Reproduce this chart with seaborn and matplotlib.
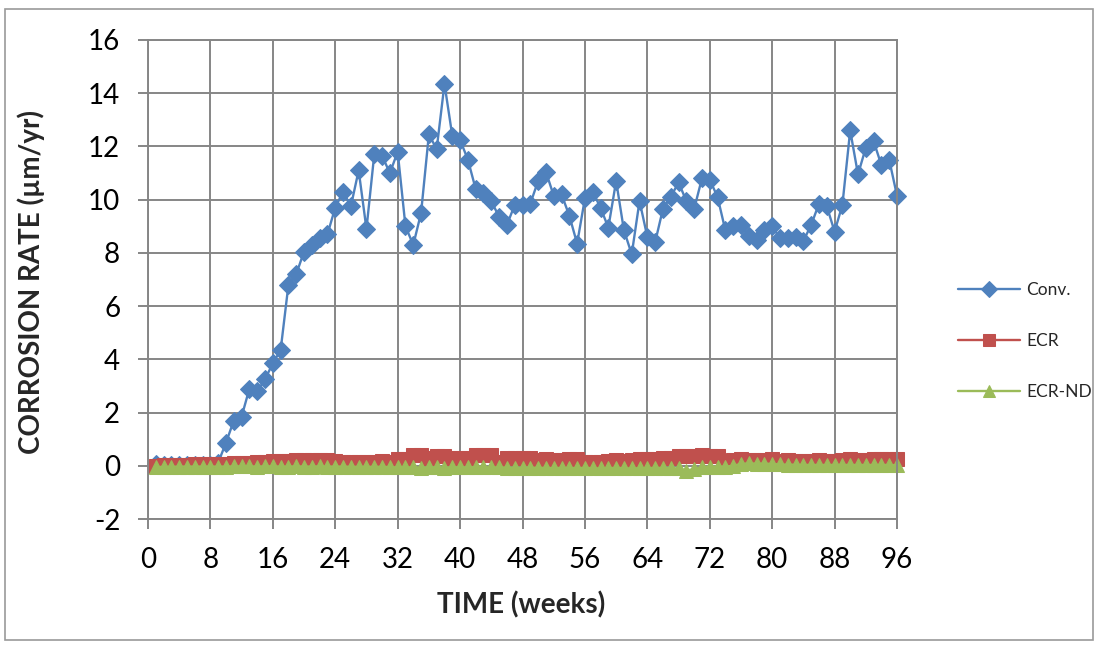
import numpy as np
import pandas as pd
import matplotlib
matplotlib.use("Agg")
import matplotlib.pyplot as plt
import seaborn as sns
from matplotlib.patches import Rectangle

# ----------------------------------------------------------
# Data
# ----------------------------------------------------------
weeks = list(range(1, 97))

conv = [0.05, 0.03, 0.02, 0.03, 0.02, 0.02, 0.03, 0.02, 0.12, 0.87, 1.70, 1.85,
        2.90, 2.80, 3.25, 3.85, 4.35, 6.80, 7.20, 8.05, 8.30, 8.55, 8.70, 9.70,
        10.30, 9.75, 11.10, 8.90, 11.70, 11.65, 11.00, 11.80, 9.00, 8.30, 9.50, 12.45,
        11.90, 14.35, 12.40, 12.25, 11.50, 10.40, 10.25, 9.95, 9.35, 9.05, 9.80, 9.80,
        9.85, 10.70, 11.05, 10.15, 10.20, 9.40, 8.35, 10.05, 10.30, 9.70, 8.95, 10.70,
        8.85, 7.95, 9.95, 8.60, 8.40, 9.65, 10.10, 10.65, 9.95, 9.65, 10.80, 10.75,
        10.10, 8.85, 9.00, 9.05, 8.65, 8.50, 8.85, 9.00, 8.55, 8.55, 8.60, 8.45,
        9.05, 9.85, 9.75, 8.80, 9.80, 12.60, 10.95, 11.95, 12.20, 11.30, 11.50, 10.15]

ecr = [0.00, 0.02, 0.03, 0.03, 0.04, 0.05, 0.05, 0.06, 0.07, 0.08, 0.09, 0.10,
       0.12, 0.15, 0.16, 0.17, 0.18, 0.19, 0.20, 0.21, 0.22, 0.22, 0.21, 0.19,
       0.15, 0.15, 0.16, 0.15, 0.16, 0.17, 0.16, 0.26, 0.27, 0.40, 0.41, 0.30,
       0.37, 0.38, 0.30, 0.31, 0.30, 0.40, 0.41, 0.40, 0.15, 0.30, 0.31, 0.30,
       0.31, 0.23, 0.24, 0.23, 0.22, 0.26, 0.27, 0.15, 0.14, 0.16, 0.19, 0.20,
       0.19, 0.22, 0.26, 0.27, 0.26, 0.28, 0.30, 0.37, 0.38, 0.38, 0.39, 0.38,
       0.37, 0.15, 0.23, 0.24, 0.23, 0.22, 0.23, 0.24, 0.19, 0.20, 0.19, 0.18,
       0.19, 0.20, 0.19, 0.19, 0.23, 0.24, 0.23, 0.23, 0.26, 0.27, 0.26, 0.26]

ecr_nd = [-0.05, -0.04, -0.04, -0.03, -0.03, -0.03, -0.03, -0.03, -0.03, -0.03, -0.02, -0.02,
          -0.02, -0.03, -0.02, -0.02, -0.03, -0.03, -0.02, -0.03, -0.03, -0.02, -0.03, -0.03,
          -0.03, -0.04, -0.04, -0.04, -0.04, -0.04, -0.05, -0.06, -0.06, -0.06, -0.07, -0.06,
          -0.06, -0.07, -0.06, -0.06, -0.06, -0.05, -0.05, -0.06, -0.06, -0.07, -0.08, -0.08,
          -0.07, -0.08, -0.08, -0.09, -0.08, -0.08, -0.09, -0.08, -0.09, -0.10, -0.09, -0.08,
          -0.09, -0.10, -0.09, -0.09, -0.08, -0.08, -0.09, -0.10, -0.18, -0.12, -0.05, -0.04,
          -0.03, -0.03, 0.00, 0.07, 0.09, 0.08, 0.08, 0.07, 0.05, 0.04, 0.04, 0.03,
          0.03, 0.03, 0.03, 0.03, 0.03, 0.03, 0.03, 0.03, 0.03, 0.03, 0.03, 0.02]

series_names = ["Conv.", "ECR", "ECR-ND"]
colors = ["#4F81BD", "#C0504D", "#9BBB59"]
markers = ["D", "s", "^"]
marker_sizes = [9.5, 10, 10]

x_ticks = list(range(0, 97, 8))
y_ticks = list(range(-2, 17, 2))

# ----------------------------------------------------------
# Style
# ----------------------------------------------------------
sns.set_style("white")
plt.rcParams["font.family"] = ["Lato", "DejaVu Sans"]
plt.rcParams["axes.unicode_minus"] = False

fig = plt.figure(figsize=(10.99, 6.49), dpi=100)
ax = fig.add_axes([148 / 1099, 1 - 519 / 649, (897 - 148) / 1099, (519 - 40) / 649])

# outer chart border
fig.patches.append(Rectangle((5 / 1099, 9 / 649), 1088 / 1099, 631 / 649,
                             transform=fig.transFigure, fill=False,
                             edgecolor="#9a9a9a", linewidth=1.2))

for name, vals, c, m, ms in zip(series_names, [conv, ecr, ecr_nd], colors, markers, marker_sizes):
    sns.lineplot(x=weeks, y=vals, ax=ax, color=c, marker=m, markersize=ms,
                 markeredgecolor=c, linewidth=1.7, label=name, clip_on=False)

ax.set_xlim(0, 96)
ax.set_ylim(-2, 16)
ax.set_xticks(x_ticks)
ax.set_yticks(y_ticks)
ax.grid(True, color="#868686", linewidth=1.4)
ax.set_axisbelow(True)
for s in ax.spines.values():
    s.set_color("#868686")
    s.set_linewidth(1.4)

ax.tick_params(axis="both", labelsize=20, length=7, width=1.4, color="#868686",
               pad=13, direction="out", labelcolor="black")
ax.tick_params(axis="x", bottom=True)
ax.tick_params(axis="y", left=True)

ax.set_xlabel("TIME (weeks)", fontsize=20, fontweight="bold")
ax.set_ylabel("CORROSION RATE (µm/yr)", fontsize=20, fontweight="bold")
ax.xaxis.set_label_coords(0.498, -0.150)
ax.yaxis.set_label_coords(-0.137, 0.495)

ax.get_legend().remove()
handles, labels = ax.get_legend_handles_labels()
fig.legend(handles, labels, loc="center left", bbox_to_anchor=(942 / 1099, 1 - 341 / 649),
           frameon=False, fontsize=12.5, handlelength=3.6, labelspacing=2.0,
           handletextpad=0.35, markerscale=0.85)

plt.savefig("out.png", dpi=100)
